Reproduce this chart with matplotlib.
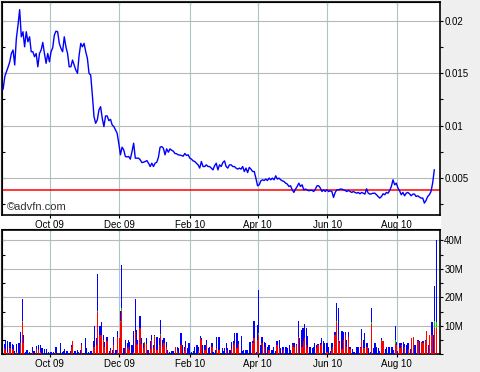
import matplotlib
matplotlib.use("Agg")
import matplotlib.pyplot as plt
import matplotlib.dates as mdates
import pandas as pd
from matplotlib.patches import Rectangle
from matplotlib.ticker import MultipleLocator, FuncFormatter

plt.rcParams["font.family"] = ["Liberation Sans", "DejaVu Sans"]

# ---- data ----
start, end = "2009-08-21", "2010-09-03"
ref_level = 0.00385

price = [
    0.0135, 0.01468, 0.01516, 0.0156, 0.01611, 0.01691, 0.01723, 0.0158, 0.01834, 0.01962,
    0.0211, 0.0185, 0.01898, 0.01754, 0.01898, 0.01802, 0.0185, 0.01707, 0.01707, 0.01659,
    0.0169, 0.01563, 0.0169, 0.01723, 0.01796, 0.0169, 0.01596, 0.0169, 0.01611, 0.01707,
    0.01745, 0.01866, 0.01904, 0.01898, 0.01787, 0.01739, 0.01707, 0.0185, 0.01754, 0.0169,
    0.01563, 0.01563, 0.01627, 0.0158, 0.01532, 0.015, 0.01675, 0.01787, 0.01754, 0.01787,
    0.01707, 0.01643, 0.015, 0.01484, 0.01293, 0.01086, 0.01022,
    0.01054, 0.0115, 0.01181, 0.0107, 0.0099, 0.01092, 0.01092, 0.01047, 0.0106, 0.01006,
    0.0099, 0.00959, 0.00927, 0.00831, 0.0072, 0.00793, 0.00767, 0.00704, 0.007, 0.00704,
    0.00679, 0.00751, 0.00831, 0.00688, 0.00688, 0.00688, 0.00672, 0.00646, 0.00649, 0.00656,
    0.00665, 0.0064, 0.00608, 0.0064, 0.00608, 0.0064, 0.00649, 0.00697, 0.00793, 0.00799,
    0.00783, 0.0072, 0.00777, 0.00745, 0.00777, 0.00764, 0.00755, 0.00733, 0.0073, 0.0072,
    0.00717, 0.00714, 0.00707, 0.00733, 0.00714, 0.0072, 0.00688, 0.00679, 0.00662, 0.00656,
    0.0064, 0.00624, 0.00593, 0.00656, 0.00608, 0.00608, 0.00624, 0.00608,
    0.00608, 0.00593, 0.00576, 0.00615, 0.0064, 0.00576, 0.00624, 0.00608, 0.00646, 0.00662,
    0.00608, 0.00593, 0.00624, 0.00624, 0.00608, 0.00608, 0.00593, 0.00583, 0.00593, 0.00583,
    0.00608, 0.0056, 0.00593, 0.0055, 0.006, 0.00583, 0.0056, 0.0056, 0.00497, 0.00424,
    0.00433, 0.00471, 0.00481, 0.00474, 0.00488, 0.00474, 0.00497, 0.00481, 0.00497, 0.00481,
    0.00519, 0.00488, 0.00497, 0.00481, 0.00471, 0.00465, 0.00449, 0.0044, 0.00417, 0.00424,
    0.00385, 0.0036, 0.00392, 0.00417, 0.00449, 0.00417, 0.00433, 0.00385, 0.00392, 0.00385,
    0.00376, 0.0038, 0.0038, 0.00369,
    0.00392, 0.00424, 0.00424, 0.00402, 0.00369, 0.00385, 0.00369, 0.00385, 0.00369, 0.00375,
    0.00369, 0.00312, 0.0036, 0.00385, 0.00385, 0.00392, 0.00392, 0.00385, 0.00379, 0.00369,
    0.00379, 0.00369, 0.0036, 0.00369, 0.0036, 0.00353, 0.0036, 0.00347, 0.0036, 0.00353,
    0.00344, 0.00395, 0.00353, 0.00344, 0.00347, 0.00353, 0.00353, 0.00338, 0.00321, 0.00306,
    0.00321, 0.00347, 0.00338, 0.0036, 0.00353, 0.00379, 0.00417, 0.00481, 0.00433, 0.00449,
    0.00402, 0.00375, 0.00338, 0.0036, 0.00328, 0.00353, 0.0036, 0.00347, 0.00328, 0.00344,
    0.00344, 0.00321, 0.00328, 0.00315, 0.00306, 0.00306, 0.00258, 0.00283, 0.00321, 0.00338,
    0.00369, 0.00449, 0.00576,
]

# volume bars: day offset from vol_base, total height, sell part (red), unknown part (green), in millions
vol_base = "2009-10-01"
vol_day = [
    -40, -39, -37, -36, -35, -33, -32, -31, -29, -27,
    -26, -24, -23, -21, -20, -18, -15, -14, -12, -10,
    -8, -7, -5, -3, -1, 1, 3, 5, 6, 9,
    11, 12, 13, 15, 18, 19, 20, 22, 24, 25,
    27, 28, 31, 32, 34, 36, 38, 39, 41, 42,
    44, 45, 47, 48, 50, 52, 53, 55, 56, 58,
    59, 61, 62, 63, 65, 66, 68, 69, 70, 72,
    73, 75, 76, 77, 79, 80, 82, 83, 85, 86,
    88, 89, 91, 92, 94, 96, 97, 99, 100, 102,
    103, 105, 107, 108, 110, 112, 113, 115, 116, 118,
    119, 121, 122, 124, 126, 127, 129, 130, 132, 133,
    134, 136, 137, 139, 140, 142, 143, 145, 146, 148,
    149, 151, 152, 153, 155, 156, 158, 159, 161, 162,
    164, 165, 168, 169, 170, 172, 173, 175, 176, 178,
    179, 181, 182, 183, 185, 186, 188, 189, 191, 192,
    194, 195, 196, 198, 199, 201, 202, 204, 205, 207,
    208, 210, 211, 213, 214, 216, 218, 219, 221, 222,
    223, 225, 226, 228, 230, 231, 232, 234, 235, 237,
    238, 240, 241, 243, 244, 246, 247, 248, 250, 251,
    253, 254, 256, 257, 259, 260, 262, 263, 265, 266,
    267, 269, 270, 272, 273, 275, 276, 278, 279, 281,
    282, 284, 285, 286, 288, 289, 291, 292, 294, 295,
    297, 298, 300, 301, 303, 304, 305, 307, 308, 310,
    311, 313, 314, 316, 317, 319, 320, 322, 323, 324,
    326, 327, 329, 330, 332, 333, 335, 336, 337, 339,
]
vol_total = [
    3.5, 5.1, 4.7, 0.4, 4.2, 3.5, 3.3, 1.2, 3.5, 3.9,
    8.0, 19.3, 6.8, 0.7, 1.5, 0.9, 2.5, 1.2, 2.9, 3.3,
    3.1, 2.1, 1.9, 1.9, 0.9, 0.7, 0.9, 2.4, 2.4, 3.9,
    0.9, 1.2, 1.9, 1.2, 1.2, 3.1, 4.5, 1.2, 1.5, 0.9,
    1.5, 3.9, 5.6, 2.1, 0.9, 1.2, 4.7, 9.8, 5.6, 28.2,
    10.1, 11.5, 6.8, 4.2, 6.2, 1.2, 2.1, 1.5, 6.2, 1.5,
    8.2, 5.6, 15.3, 31.5, 2.1, 5.1, 3.9, 5.1, 4.2, 3.3,
    8.2, 19.3, 8.6, 5.1, 13.5, 5.6, 3.9, 4.4, 5.6, 1.5,
    4.5, 6.8, 3.3, 6.8, 6.2, 5.6, 12.1, 5.1, 5.6, 4.2,
    1.5, 0.9, 1.2, 1.2, 2.7, 2.4, 2.1, 7.4, 3.3, 2.7,
    4.5, 2.1, 3.9, 0.9, 1.2, 2.4, 3.1, 2.7, 6.5, 5.6,
    3.1, 3.3, 5.1, 2.1, 2.7, 3.9, 0.9, 1.5, 6.2, 6.2,
    6.2, 2.1, 1.2, 2.1, 3.9, 2.1, 1.5, 4.2, 4.5, 7.4,
    7.4, 4.5, 6.5, 1.2, 1.5, 1.5, 1.5, 4.2, 4.2, 4.7,
    11.8, 0.9, 10.4, 22.4, 3.3, 6.2, 4.2, 3.9, 2.7, 3.3,
    1.5, 1.5, 2.4, 1.2, 4.5, 5.1, 2.1, 2.7, 2.7, 2.7,
    2.1, 3.3, 1.5, 3.9, 3.9, 3.6, 11.8, 5.6, 8.6, 9.4,
    10.6, 9.2, 6.5, 2.7, 2.1, 2.4, 3.9, 3.1, 3.5, 3.9,
    5.6, 4.5, 3.9, 3.9, 2.4, 1.2, 3.9, 3.9, 8.0, 18.1,
    16.2, 4.5, 8.2, 7.8, 8.0, 5.1, 8.0, 2.4, 1.9, 0.9,
    0.9, 2.7, 2.4, 2.7, 8.9, 5.1, 7.4, 3.9, 2.1, 0.9,
    16.2, 2.1, 3.9, 2.4, 2.1, 1.2, 5.6, 4.5, 1.9, 2.7,
    2.7, 2.7, 2.7, 1.5, 9.8, 4.2, 1.2, 3.9, 3.9, 4.2,
    3.5, 3.3, 3.9, 1.9, 5.6, 6.2, 3.3, 5.1, 5.1, 4.5,
    4.2, 4.5, 5.1, 8.2, 3.3, 6.8, 11.5, 6.8, 24.1, 40.2,
]
vol_sell = [
    2.1, 1.5, 0.9, 0, 2.1, 1.9, 1.5, 0, 0.9, 0,
    3.9, 11.5, 3.9, 0, 0, 0, 0.9, 0, 1.9, 1.5,
    0.9, 0, 0, 0, 0, 0, 0, 0.4, 0, 0,
    0, 0, 0, 0, 0, 2.7, 4.5, 0, 0, 0,
    0, 3.3, 0, 0, 0, 0, 2.7, 2.7, 3.3, 14.8,
    6.8, 6.8, 5.1, 2.4, 4.5, 0, 1.5, 0, 3.1, 0,
    5.9, 5.6, 11.5, 15.3, 0, 2.7, 2.1, 2.7, 1.5, 0,
    0.9, 8.0, 3.3, 3.5, 9.2, 3.5, 2.1, 3.9, 3.5, 0,
    1.9, 5.1, 2.1, 6.2, 1.5, 3.3, 6.8, 2.7, 3.9, 2.4,
    0, 0, 0, 0, 2.4, 1.2, 0, 3.3, 0, 1.2,
    2.7, 0, 0, 0, 0, 0, 0, 1.2, 5.6, 5.1,
    0, 1.5, 3.3, 0, 0, 2.4, 0, 0, 2.1, 1.5,
    1.5, 0, 0, 0, 1.5, 0, 0, 1.9, 3.3, 3.9,
    2.1, 3.5, 0, 0, 0, 0, 0, 0, 0, 3.8,
    5.6, 0, 5.1, 6.8, 0, 3.9, 2.7, 0, 0, 1.5,
    0, 0, 0, 0, 3.3, 2.1, 0, 0, 1.5, 0,
    0, 0, 0, 3.3, 2.4, 3.3, 6.2, 0, 2.7, 4.5,
    5.6, 3.3, 2.1, 0, 0, 0, 0, 2.1, 3.1, 3.3,
    3.5, 0, 0, 0.9, 0, 0, 1.5, 2.7, 6.8, 11.5,
    5.1, 3.9, 1.9, 5.1, 6.8, 2.7, 6.2, 1.9, 0, 0,
    0, 0, 0, 2.1, 5.1, 2.1, 2.1, 2.7, 0, 0,
    10.6, 0, 0, 0, 0, 0, 5.1, 4.5, 0, 0,
    0, 0, 0, 0, 3.5, 3.3, 0, 2.1, 3.3, 0,
    2.7, 0, 1.9, 0, 5.6, 5.9, 0, 4.5, 4.5, 0,
    4.2, 3.9, 4.7, 8.2, 0, 6.8, 6.8, 0.4, 9.2, 9.2,
]
vol_unknown = [
    0, 0, 0, 0, 0, 0, 0, 0, 0, 0,
    0, 0.3, 0, 0, 0, 0, 0, 0, 0, 0,
    0, 0, 0, 0, 0, 0, 0, 0, 0, 0,
    0, 0, 0, 0, 0, 0, 0, 0, 0, 0,
    0, 0, 0, 0, 0, 0, 0, 0, 0, 0.4,
    0, 0, 0, 0, 0, 0, 0, 0, 0, 0,
    0, 0, 0.3, 0.9, 0, 0, 0, 0, 0, 0,
    0, 0, 0, 0, 0, 0, 0, 0.3, 0, 0,
    0, 0, 0, 0.3, 0, 0, 0.3, 0, 0, 0,
    0, 0, 0, 0, 0, 0, 0, 0, 0, 0,
    0, 0, 0, 0, 0, 0, 0, 0, 0, 0,
    0, 0, 0, 0, 0, 0, 0, 0, 0, 0,
    0, 0, 0, 0, 0, 0, 0, 0, 0, 0,
    0, 0, 0, 0, 0, 0, 0, 0, 0, 0,
    0, 0, 0, 0.6, 0, 0, 0, 0, 0, 0,
    0, 0, 0, 0, 0, 0, 0, 0, 0, 0,
    0, 0, 0, 0, 0, 0, 0, 0, 0, 0,
    0, 0, 0, 0, 0, 0, 0, 0, 0, 0,
    0, 0, 0, 0, 0, 0, 0, 0, 0, 0.3,
    0, 0, 0, 0, 0, 0, 0, 0, 0, 0,
    0, 0, 0, 0, 0, 0, 0, 0, 0, 0,
    0.8, 0, 0, 0, 0, 0, 0, 0, 0, 0,
    0, 0, 0, 0, 1.5, 0, 0, 0, 0, 0,
    0, 0, 0, 0, 0, 0, 0, 0, 0, 0,
    0, 0, 0, 0, 0, 0, 0, 0, 2.5, 2.1,
]

price_dates = pd.date_range(start, end, periods=len(price))
vol_dates = pd.Timestamp(vol_base) + pd.to_timedelta(vol_day, unit="D")
vol_buy = [t - s - u for t, s, u in zip(vol_total, vol_sell, vol_unknown)]
green_base = [s + u for s, u in zip(vol_sell, vol_unknown)]

# ---- figure ----
W, H = 480, 372
fig = plt.figure(figsize=(W / 100, H / 100), dpi=100, facecolor="#efefef")
# white strip behind the date labels between the two panels
fig.patches.append(Rectangle((0, 1 - 229.5 / H), 440 / W, 14.5 / H,
                             transform=fig.transFigure, color="white", zorder=-5))


def px_axes(x0, y0, x1, y1):
    return fig.add_axes([x0 / W, 1 - y1 / H, (x1 - x0) / W, (y1 - y0) / H])


xlim = (pd.Timestamp("2009-08-20"), pd.Timestamp("2010-09-08"))
months = mdates.MonthLocator(bymonth=[2, 4, 6, 8, 10, 12])
fmt = mdates.DateFormatter("%b %y")
hgrid = dict(color="#b8b8b8", lw=0.8)
vgrid = dict(color="#a8c8c8", lw=0.8)


def style(ax):
    ax.set_facecolor("white")
    ax.set_xlim(*xlim)
    ax.xaxis.set_major_locator(months)
    ax.xaxis.set_major_formatter(fmt)
    ax.yaxis.tick_right()
    ax.tick_params(axis="both", which="both", direction="out", length=2.5, width=0.8,
                   labelsize=7, pad=1.2, colors="black")
    ax.tick_params(axis="y", which="both", left=False, right=True, pad=0.6)
    ax.xaxis.grid(True, **vgrid)
    ax.yaxis.grid(True, which="major", **hgrid)
    ax.set_axisbelow(True)
    for sp in ax.spines.values():
        sp.set_linewidth(1.2)
        sp.set_color("black")
    # inward ticks on the left and top edges
    sl = ax.secondary_yaxis("left")
    sl.tick_params(which="both", direction="in", length=2.5, width=0.8, labelleft=False)
    st = ax.secondary_xaxis("top")
    st.xaxis.set_major_locator(months)
    st.tick_params(direction="in", length=2.5, width=0.8, labeltop=False)
    return sl


# Price panel
ax = px_axes(2, 2, 440, 215)
sl = style(ax)
ax.plot(price_dates, price, color="#0000ff", lw=1.0, zorder=3)
ax.axhline(ref_level, color="#ff0000", lw=1.1, zorder=2)
ax.set_ylim(0.00144, 0.02183)
ax.yaxis.set_major_locator(MultipleLocator(0.005))
ax.yaxis.set_minor_locator(MultipleLocator(0.0025))
ax.yaxis.set_major_formatter(FuncFormatter(lambda v, p: f"{v:g}"))
sl.yaxis.set_major_locator(MultipleLocator(0.0025))
ax.text(0.011, 0.015, "\u00a9advfn.com", transform=ax.transAxes, fontsize=8,
        color="#333333", ha="left", va="bottom")

# Volume panel
ax2 = px_axes(2, 229.5, 440, 354.3)
sl2 = style(ax2)
ax2.bar(vol_dates, vol_sell, width=1.1, color="#ff0000", zorder=3)
ax2.bar(vol_dates, vol_unknown, bottom=vol_sell, width=1.1, color="#00cc00", zorder=3)
ax2.bar(vol_dates, vol_buy, bottom=green_base, width=1.1, color="#0000ff", zorder=3)
ax2.set_ylim(0, 43.8)
ax2.yaxis.set_major_locator(MultipleLocator(10))
ax2.yaxis.set_minor_locator(MultipleLocator(5))
ax2.yaxis.set_major_formatter(FuncFormatter(lambda v, p: f"{v:.0f}M" if v > 0 else ""))
sl2.yaxis.set_major_locator(MultipleLocator(5))

fig.savefig("out.png", dpi=100, facecolor=fig.get_facecolor())
